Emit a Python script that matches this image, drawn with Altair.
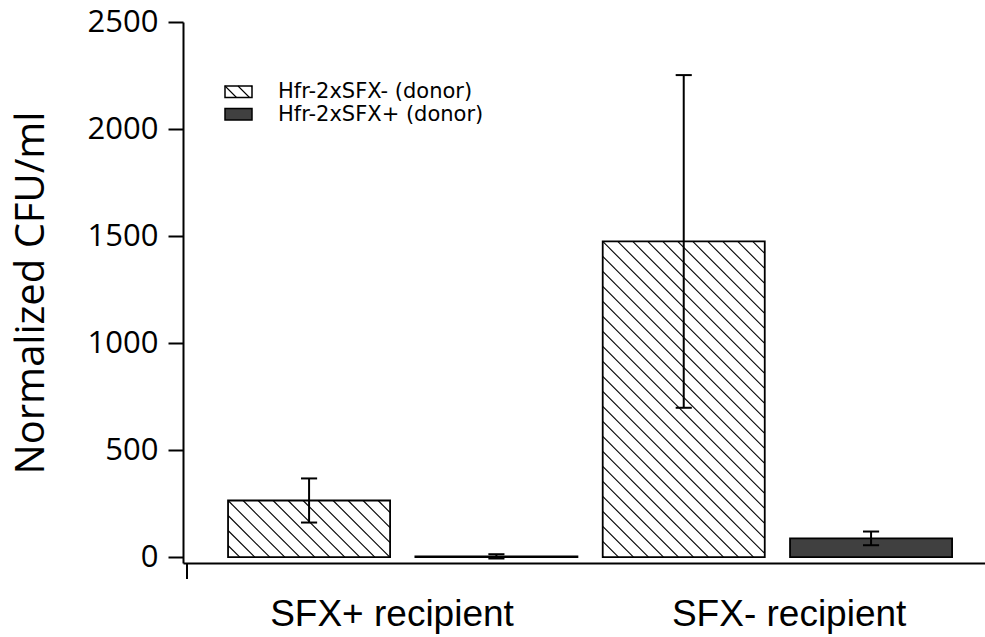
import json
import altair as alt
import pandas as pd

# ---------------- data ----------------
categories = ["SFX+ recipient", "SFX- recipient"]
series = ["Hfr-2xSFX- (donor)", "Hfr-2xSFX+ (donor)"]
mean_sfx_minus_donor = [265, 1475]
err_sfx_minus_donor = [103, 777]
mean_sfx_plus_donor = [4, 88]
err_sfx_plus_donor = [10, 32]
y_ticks = [0, 500, 1000, 1500, 2000, 2500]

# ---------------- layout / style ----------------
W, H = 802, 541
X0, X1 = 0.327, 0.327 + W / 187.33
Y0, Y1 = -27, 2500
BAR_W = 0.865
CAP_HALF = 0.043
HATCH_STEP = 15
LABEL_SHIFT = [-0.06, 0.06]
fills = ["white", "#404040"]
hatched = [True, False]


def px_x(v):
    return (v - X0) / (X1 - X0) * W


def px_y(v):
    return (Y1 - v) / (Y1 - Y0) * H


def dat_x(p):
    return X0 + p / W * (X1 - X0)


def dat_y(p):
    return Y1 - p / H * (Y1 - Y0)


def hatch(L, R, T, B, step):
    segs = []
    for k in range(-300, 300):
        c = L - T + k * step
        if c <= L - B or c >= R - T:
            continue
        if c + T >= L:
            ex, ey = c + T, T
        else:
            ex, ey = L, L - c
        if c + B <= R:
            qx, qy = c + B, B
        else:
            qx, qy = R, R - c
        if qx > ex:
            segs.append((ex, ey, qx, qy))
    return segs


means = [mean_sfx_minus_donor, mean_sfx_plus_donor]
errs = [err_sfx_minus_donor, err_sfx_plus_donor]

bar_rows, err_rows, cap_rows, hatch_rows = [], [], [], []
for g, cat in enumerate(categories):
    for s, name in enumerate(series):
        pos = 1 + 2 * g + s
        m = means[s][g]
        e = errs[s][g]
        bar_rows.append(dict(series=name, category=cat, x0=pos - BAR_W / 2,
                             x1=pos + BAR_W / 2, lo=0, hi=m, fill=fills[s]))
        err_rows.append(dict(x=pos, lo=m - e, hi=m + e))
        for yv in (m - e, m + e):
            cap_rows.append(dict(x0=pos - CAP_HALF, x1=pos + CAP_HALF, y=yv))
        if hatched[s]:
            L, R = px_x(pos - BAR_W / 2), px_x(pos + BAR_W / 2)
            T, B = px_y(m), px_y(0)
            for (a, b, c, d) in hatch(L, R, T, B, HATCH_STEP):
                hatch_rows.append(dict(x0=dat_x(a), y0=dat_y(b), x1=dat_x(c), y1=dat_y(d)))

# legend (pixel layout converted to data units so it shares the scales)
leg_rows, leg_text = [], []
sw_tops = [64, 86.5]
for s, name in enumerate(series):
    L, R, T, B = 42, 69, sw_tops[s], sw_tops[s] + 11.5
    leg_rows.append(dict(x0=dat_x(L), x1=dat_x(R), y0=dat_y(T), y1=dat_y(B), fill=fills[s]))
    leg_text.append(dict(x=dat_x(95), y=dat_y((T + B) / 2 + 0.5), label=name))
    if hatched[s]:
        for (a, b, c, d) in hatch(L, R, T, B, 13):
            hatch_rows.append(dict(x0=dat_x(a), y0=dat_y(b), x1=dat_x(c), y1=dat_y(d)))

bars = pd.DataFrame(bar_rows)
errdf = pd.DataFrame(err_rows)
capdf = pd.DataFrame(cap_rows)
hatchdf = pd.DataFrame(hatch_rows)
legdf = pd.DataFrame(leg_rows)
legtxt = pd.DataFrame(leg_text)

xs = alt.Scale(domain=[X0, X1], nice=False, zero=False)
ys = alt.Scale(domain=[Y0, Y1], nice=False, zero=False)

label_pos = [1.5 + 2 * g + LABEL_SHIFT[g] for g in range(len(categories))]
label_expr = f"{json.dumps(categories)}[datum.value < {label_pos[0] + 1} ? 0 : 1]"

x_axis = alt.Axis(values=label_pos, labelExpr=label_expr, ticks=False, tickSize=0,
                  grid=False, title=None, domainColor="black", domainWidth=2,
                  labelFont="Liberation Sans", labelFontSize=37, labelColor="black",
                  labelPadding=33, labelFlush=False, labelOverlap=False, labelLimit=0)
y_axis = alt.Axis(values=y_ticks, format="d", grid=False, domainColor="black", domainWidth=2,
                  tickColor="black", tickWidth=2, tickSize=15,
                  labelFont="Open Sans", labelFontSize=31, labelColor="black",
                  labelPadding=10, labelFlush=False,
                  title="Normalized CFU/ml", titleFont="Open Sans", titleFontSize=40,
                  titleFontWeight="normal", titleColor="black", titleAngle=-90,
                  titleX=-152, titleY=H / 2, titleAlign="center", titleBaseline="middle")


def X(field):
    return alt.X(field, scale=xs, axis=x_axis)


def Y(field):
    return alt.Y(field, scale=ys, axis=y_axis)


bar_fill = alt.Chart(bars).mark_rect(strokeWidth=0).encode(
    x=X("x0:Q"), x2="x1:Q", y=Y("lo:Q"), y2="hi:Q",
    fill=alt.Fill("fill:N", scale=None),
)

hatch_layer = alt.Chart(hatchdf).mark_rule(color="black", strokeWidth=1.1).encode(
    x=X("x0:Q"), x2="x1:Q", y=Y("y0:Q"), y2="y1:Q",
)

bar_outline = alt.Chart(bars).mark_rect(filled=False, stroke="black", strokeWidth=1.8).encode(
    x=X("x0:Q"), x2="x1:Q", y=Y("lo:Q"), y2="hi:Q",
)

err_layer = alt.Chart(errdf).mark_rule(color="black", strokeWidth=2).encode(
    x=X("x:Q"), y=Y("lo:Q"), y2="hi:Q",
)

cap_layer = alt.Chart(capdf).mark_rule(color="black", strokeWidth=2).encode(
    x=X("x0:Q"), x2="x1:Q", y=Y("y:Q"),
)

leg_fill = alt.Chart(legdf).mark_rect(strokeWidth=0).encode(
    x=X("x0:Q"), x2="x1:Q", y=Y("y0:Q"), y2="y1:Q",
    fill=alt.Fill("fill:N", scale=None),
)

leg_outline = alt.Chart(legdf).mark_rect(filled=False, stroke="black", strokeWidth=1.5).encode(
    x=X("x0:Q"), x2="x1:Q", y=Y("y0:Q"), y2="y1:Q",
)

leg_label = alt.Chart(legtxt).mark_text(align="left", baseline="middle", font="DejaVu Sans",
                                        fontSize=21, color="black").encode(
    x=X("x:Q"), y=Y("y:Q"), text="label:N",
)

left_tick = alt.Chart(pd.DataFrame({"k": [0]})).mark_rule(color="black", strokeWidth=2).encode(
    x=alt.value(4), y=alt.value(H), y2=alt.value(H + 16)
)

chart = alt.layer(
    bar_fill, leg_fill, hatch_layer, bar_outline, leg_outline,
    err_layer, cap_layer, leg_label, left_tick,
).properties(
    width=W, height=H,
    autosize=alt.AutoSizeParams(type="none"),
    padding={"left": 183, "top": 22, "right": 0, "bottom": 74},
    background="white",
).configure_view(stroke=None)

chart.save("out.html", embed_options={"renderer": "svg", "actions": False})
